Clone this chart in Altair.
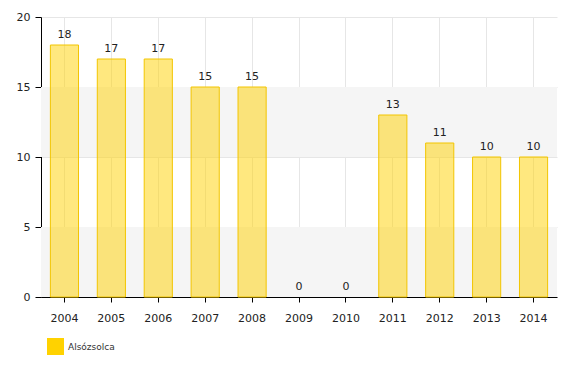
import altair as alt
import pandas as pd

years = ["2004", "2005", "2006", "2007", "2008", "2009", "2010", "2011", "2012", "2013", "2014"]
values = [18, 17, 17, 15, 15, 0, 0, 13, 11, 10, 10]
series = "Alsózsolca"
band_lo = [0, 10]
band_hi = [5, 15]

df = pd.DataFrame({"year": years, "value": values, "series": [series] * len(years)})
bands = pd.DataFrame({"lo": band_lo, "hi": band_hi})

FONT = "DejaVu Sans"
xscale = alt.Scale(domain=years, paddingInner=0.4, paddingOuter=0.2)
yscale = alt.Scale(domain=[0, 20], nice=False)

band_layer = alt.Chart(bands).mark_rect(color="#f5f5f5").encode(
    y=alt.Y("lo:Q", scale=yscale),
    y2="hi:Q",
    x=alt.value(0),
    x2=alt.value(516),
)

bars = alt.Chart(df).mark_bar(fillOpacity=0.5, stroke="#f2c500", strokeWidth=1).encode(
    x=alt.X("year:N", scale=xscale, sort=years,
            axis=alt.Axis(title=None, labelAngle=0, grid=True, gridColor="#e6e6e6",
                          bandPosition=0.5, domainColor="#000000", tickColor="#000000",
                          tickSize=5, labelPadding=10, labelFont=FONT, labelFontSize=11,
                          labelColor="#222222")),
    y=alt.Y("value:Q", scale=yscale,
            axis=alt.Axis(title=None, values=[0, 5, 10, 15, 20], grid=True, gridColor="#e6e6e6",
                          domainColor="#000000", tickColor="#000000", tickSize=6,
                          labelPadding=5, labelFont=FONT, labelFontSize=11,
                          labelColor="#222222")),
    strokeOpacity=alt.condition("datum.value > 0", alt.value(1), alt.value(0)),
    color=alt.Color("series:N", scale=alt.Scale(range=["#ffd200"]),
                    legend=alt.Legend(title=None, orient="none", legendX=6, legendY=321,
                                      symbolType="square", symbolSize=289,
                                      symbolOpacity=1, symbolStrokeWidth=0,
                                      labelFont=FONT, labelFontSize=9,
                                      labelColor="#333333", labelOffset=4)),
)

labels = alt.Chart(df).mark_text(baseline="bottom", dy=-5, font=FONT, fontSize=11,
                                 color="#222222").encode(
    x=alt.X("year:N", scale=xscale, sort=years),
    y=alt.Y("value:Q", scale=yscale),
    text="value:Q",
)

chart = alt.layer(band_layer, bars, labels).properties(
    width=516, height=280,
    autosize=alt.AutoSizeParams(type="none"),
    padding={"left": 41, "top": 17, "right": 22, "bottom": 69},
).configure_view(stroke=None).configure_axis(gridWidth=1)

chart.save("out.html", embed_options={"renderer": "svg", "actions": False})
